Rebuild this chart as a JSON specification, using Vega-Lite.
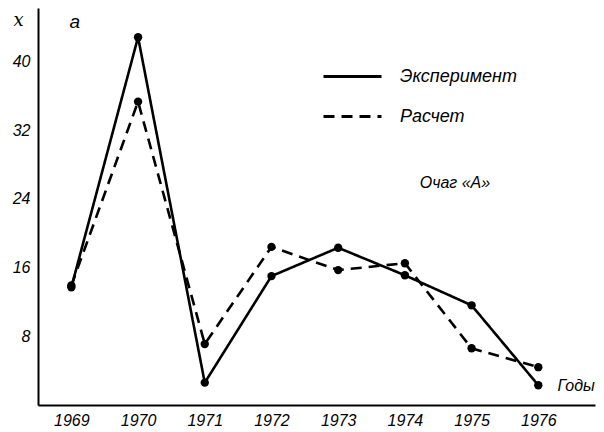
{
  "$schema": "https://vega.github.io/schema/vega-lite/v6.json",
  "width": 557,
  "height": 397,
  "autosize": "none",
  "padding": {"left": 38, "top": 8, "right": 9, "bottom": 27},
  "background": "white",
  "config": {"view": {"stroke": null}, "font": "Liberation Sans"},
  "datasets": {
    "series": [
      {"year": 1969, "value": 13.7, "series": "Эксперимент"},
      {"year": 1970, "value": 42.8, "series": "Эксперимент"},
      {"year": 1971, "value": 2.6, "series": "Эксперимент"},
      {"year": 1972, "value": 15.0, "series": "Эксперимент"},
      {"year": 1973, "value": 18.3, "series": "Эксперимент"},
      {"year": 1974, "value": 15.1, "series": "Эксперимент"},
      {"year": 1975, "value": 11.6, "series": "Эксперимент"},
      {"year": 1976, "value": 2.3, "series": "Эксперимент"},
      {"year": 1969, "value": 13.9, "series": "Расчет"},
      {"year": 1970, "value": 35.3, "series": "Расчет"},
      {"year": 1971, "value": 7.1, "series": "Расчет"},
      {"year": 1972, "value": 18.4, "series": "Расчет"},
      {"year": 1973, "value": 15.7, "series": "Расчет"},
      {"year": 1974, "value": 16.5, "series": "Расчет"},
      {"year": 1975, "value": 6.6, "series": "Расчет"},
      {"year": 1976, "value": 4.4, "series": "Расчет"}
    ],
    "notes": [
      {"year": 1969.05, "value": 44.6, "label": "a", "size": 19},
      {"year": 1974.75, "value": 25.8, "label": "Очаг «А»", "size": 16}
    ]
  },
  "layer": [
    {
      "data": {"name": "series"},
      "mark": {"type": "line", "color": "black"},
      "encoding": {
        "x": {
          "field": "year", "type": "quantitative",
          "scale": {"domain": [1968.5, 1976.85], "nice": false, "zero": false},
          "axis": {
            "orient": "bottom",
            "values": [1969, 1970, 1971, 1972, 1973, 1974, 1975, 1976],
            "format": "d", "grid": false, "ticks": false,
            "domainWidth": 2, "domainColor": "black",
            "labelFontStyle": "italic", "labelFontSize": 16, "labelColor": "black",
            "labelPadding": 7, "labelFlush": false,
            "title": "Годы", "titleFontStyle": "italic", "titleFontWeight": "normal",
            "titleFontSize": 16, "titleColor": "black",
            "titleX": 519, "titleY": -20, "titleAlign": "left", "titleBaseline": "middle"
          }
        },
        "y": {
          "field": "value", "type": "quantitative",
          "scale": {"domain": [0, 46.2], "nice": false},
          "axis": {
            "orient": "left",
            "values": [8, 16, 24, 32, 40], "grid": false, "ticks": false,
            "domainWidth": 2, "domainColor": "black",
            "labelFontStyle": "italic", "labelFontSize": 16, "labelColor": "black",
            "labelPadding": 8,
            "title": "x", "titleAngle": 0, "titleFont": "DejaVu Serif",
            "titleFontStyle": "italic", "titleFontWeight": "normal", "titleFontSize": 18,
            "titleColor": "black", "titleX": -20, "titleY": 12,
            "titleAlign": "center", "titleBaseline": "middle"
          }
        },
        "strokeDash": {
          "field": "series", "type": "nominal",
          "scale": {"domain": ["Эксперимент", "Расчет"], "range": [[1, 0], [11, 7]]},
          "legend": {
            "title": null, "orient": "none", "legendX": 284, "legendY": 38,
            "symbolType": "stroke", "symbolSize": 3364, "symbolStrokeWidth": 2.8,
            "symbolStrokeColor": "black",
            "labelFontStyle": "italic", "labelFontSize": 18, "labelColor": "black",
            "labelOffset": 17, "rowPadding": -28, "padding": 0
          }
        },
        "strokeWidth": {"value": 2.6}
      }
    },
    {
      "data": {"name": "series"},
      "mark": {"type": "point", "filled": true, "color": "black", "size": 70, "opacity": 1},
      "encoding": {
        "x": {"field": "year", "type": "quantitative"},
        "y": {"field": "value", "type": "quantitative"}
      }
    },
    {
      "data": {"name": "notes"},
      "mark": {"type": "text", "fontStyle": "italic", "color": "black", "clip": false},
      "encoding": {
        "x": {"field": "year", "type": "quantitative"},
        "y": {"field": "value", "type": "quantitative"},
        "text": {"field": "label"},
        "size": {"field": "size", "type": "quantitative", "scale": null}
      }
    }
  ]
}
